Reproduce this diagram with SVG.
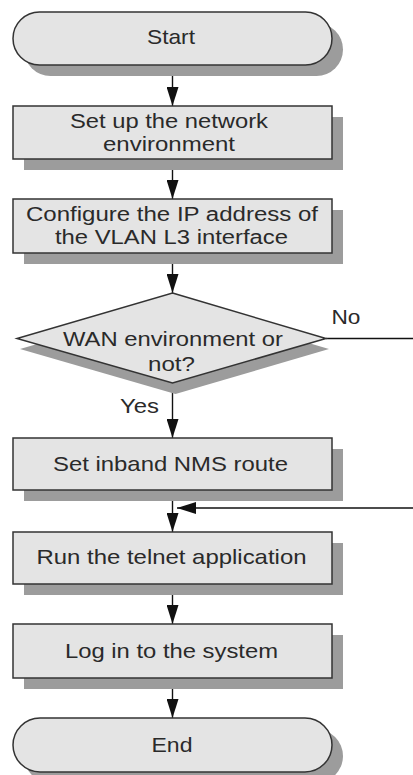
<svg xmlns="http://www.w3.org/2000/svg" width="413" height="775" viewBox="0 0 413 775">
  <style>
    .shadow { fill: #9c9c9c; }
    .shape { fill: #e4e4e4; stroke: #333333; stroke-width: 1.5; }
    .label { font-family: "Liberation Sans", Arial, sans-serif; font-size: 21px; fill: #2a2a2a; text-anchor: middle; }
    .pair { font-size: 20px; }
    .tag { font-family: "Liberation Sans", Arial, sans-serif; font-size: 21px; fill: #2a2a2a; }
    .flow { fill: none; stroke: #111111; stroke-width: 1.4; }
  </style>
  <defs>
    <marker id="arrow" viewBox="0 0 19 12" refX="19" refY="6" markerWidth="19" markerHeight="12" markerUnits="userSpaceOnUse" orient="auto">
      <path d="M0,0 L19,6 L0,12 z" fill="#111111"/>
    </marker>
  </defs>
  <rect width="413" height="775" fill="#ffffff"/>

  <!-- connectors -->
  <g id="connectors">
    <line class="flow" x1="172.5" y1="65" x2="172.5" y2="106" marker-end="url(#arrow)"/>
    <line class="flow" x1="172.5" y1="159" x2="172.5" y2="199" marker-end="url(#arrow)"/>
    <line class="flow" x1="172.5" y1="253" x2="172.5" y2="293" marker-end="url(#arrow)"/>
    <line class="flow" x1="172.5" y1="383" x2="172.5" y2="438" marker-end="url(#arrow)"/>
    <line class="flow" x1="172.5" y1="490" x2="172.5" y2="532" marker-end="url(#arrow)"/>
    <line class="flow" x1="172.5" y1="584" x2="172.5" y2="624" marker-end="url(#arrow)"/>
    <line class="flow" x1="172.5" y1="678" x2="172.5" y2="718" marker-end="url(#arrow)"/>
    <!-- "No" branch leaves to the right; the return joins before the telnet step -->
    <line class="flow" x1="326" y1="338.5" x2="413" y2="338.5"/>
    <line class="flow" x1="413" y1="508" x2="177" y2="508" marker-end="url(#arrow)"/>
    <text class="tag" x="331.5" y="324" textLength="29" lengthAdjust="spacingAndGlyphs">No</text>
    <text class="tag" x="120" y="413" textLength="39" lengthAdjust="spacingAndGlyphs">Yes</text>
  </g>

  <g id="start">
    <rect class="shadow" x="24" y="23" width="319" height="53" rx="26.5"/>
    <rect class="shape" x="13" y="12" width="319" height="53" rx="26.5"/>
    <text class="label" x="171" y="44" textLength="48" lengthAdjust="spacingAndGlyphs">Start</text>
  </g>

  <g id="setup-network">
    <rect class="shadow" x="24" y="117" width="319" height="53"/>
    <rect class="shape" x="13" y="106" width="319" height="53"/>
    <text class="label pair" x="169" y="128" textLength="198" lengthAdjust="spacingAndGlyphs">Set up the network</text>
    <text class="label pair" x="169" y="151" textLength="132" lengthAdjust="spacingAndGlyphs">environment</text>
  </g>

  <g id="configure-ip">
    <rect class="shadow" x="24" y="210" width="319" height="54"/>
    <rect class="shape" x="13" y="199" width="319" height="54"/>
    <text class="label pair" x="172" y="220.5" textLength="292" lengthAdjust="spacingAndGlyphs">Configure the IP address of</text>
    <text class="label pair" x="171.5" y="244" textLength="233" lengthAdjust="spacingAndGlyphs">the VLAN L3 interface</text>
  </g>

  <g id="wan-decision">
    <polygon class="shadow" points="175.5,304 329,349 175.5,394 20,349"/>
    <polygon class="shape" points="172.5,293 326,338.5 172.5,383 17,338.5"/>
    <text class="label" x="173" y="346" textLength="220" lengthAdjust="spacingAndGlyphs">WAN environment or</text>
    <text class="label" x="171.5" y="371" textLength="47" lengthAdjust="spacingAndGlyphs">not?</text>
  </g>

  <g id="inband-route">
    <rect class="shadow" x="24" y="449" width="319" height="52"/>
    <rect class="shape" x="13" y="438" width="319" height="52"/>
    <text class="label" x="170.5" y="471" textLength="235" lengthAdjust="spacingAndGlyphs">Set inband NMS route</text>
  </g>

  <g id="run-telnet">
    <rect class="shadow" x="24" y="543" width="319" height="52"/>
    <rect class="shape" x="13" y="532" width="319" height="52"/>
    <text class="label" x="171.5" y="564" textLength="270" lengthAdjust="spacingAndGlyphs">Run the telnet application</text>
  </g>

  <g id="log-in">
    <rect class="shadow" x="24" y="635" width="319" height="54"/>
    <rect class="shape" x="13" y="624" width="319" height="54"/>
    <text class="label" x="171.5" y="658" textLength="213" lengthAdjust="spacingAndGlyphs">Log in to the system</text>
  </g>

  <g id="end">
    <rect class="shadow" x="24" y="729" width="319" height="54" rx="27"/>
    <rect class="shape" x="13" y="718" width="319" height="54" rx="27"/>
    <text class="label" x="172" y="752" textLength="41" lengthAdjust="spacingAndGlyphs">End</text>
  </g>
</svg>
